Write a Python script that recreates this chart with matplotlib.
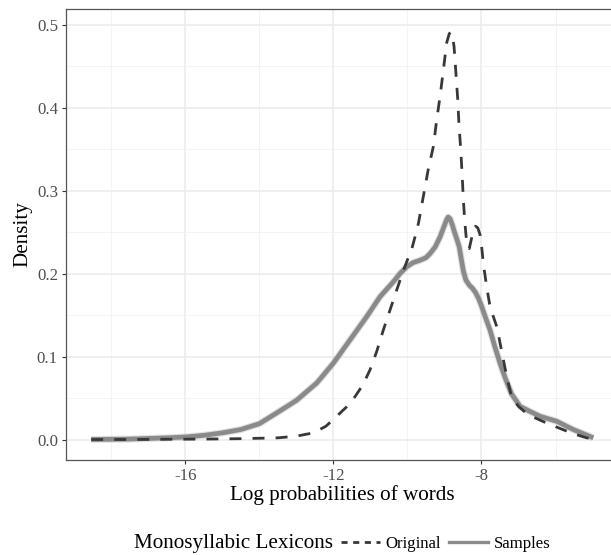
import matplotlib
matplotlib.use("Agg")
import matplotlib.pyplot as plt
from matplotlib.lines import Line2D
from matplotlib.ticker import MultipleLocator, FormatStrFormatter

plt.rcParams['font.family'] = ['Liberation Serif', 'DejaVu Serif']

# density curves
orig_x = [-18.54, -17.5, -16.5, -15.5, -14.5, -13.5, -13.0, -12.54, -12.2, -11.91,
          -11.65, -11.41, -11.2, -11.01, -10.83, -10.65, -10.47, -10.29, -10.13, -9.97,
          -9.88, -9.79, -9.70, -9.57, -9.44, -9.30, -9.21, -9.12, -9.03, -8.94,
          -8.87, -8.82, -8.78, -8.74, -8.69, -8.64, -8.61, -8.56, -8.52, -8.49,
          -8.45, -8.41, -8.37, -8.33, -8.28, -8.22, -8.16, -8.10, -8.04, -7.99,
          -7.95, -7.86, -7.78, -7.68, -7.58, -7.45, -7.30, -7.19, -7.0, -6.8,
          -6.6, -6.3, -6.03, -5.75, -5.45, -5.16, -4.98]
orig_y = [0.0, 0.0, 0.0003, 0.0005, 0.001, 0.002, 0.004, 0.008, 0.016, 0.028,
          0.039, 0.052, 0.066, 0.084, 0.106, 0.132, 0.156, 0.180, 0.201, 0.220,
          0.230, 0.245, 0.261, 0.293, 0.325, 0.353, 0.385, 0.413, 0.445, 0.478,
          0.489, 0.491, 0.486, 0.473, 0.441, 0.409, 0.381, 0.349, 0.317, 0.289,
          0.262, 0.242, 0.232, 0.230, 0.240, 0.252, 0.257, 0.255, 0.247, 0.230,
          0.212, 0.184, 0.163, 0.148, 0.135, 0.105, 0.072, 0.052, 0.040, 0.032,
          0.027, 0.021, 0.016, 0.011, 0.006, 0.002, 0.0005]

samp_x = [-18.54, -17.5, -16.5, -16.0, -15.5, -15.0, -14.5, -14.0, -13.53, -13.0,
          -12.45, -12.0, -11.55, -11.1, -10.74, -10.38, -10.2, -10.02, -9.85, -9.66,
          -9.5, -9.39, -9.25, -9.12, -9.0, -8.94, -8.90, -8.85, -8.79, -8.73,
          -8.67, -8.60, -8.54, -8.49, -8.42, -8.33, -8.24, -8.16, -8.08, -8.0,
          -7.9, -7.77, -7.64, -7.5, -7.35, -7.19, -6.96, -6.7, -6.42, -6.2,
          -5.97, -5.75, -5.52, -5.25, -4.98]
samp_y = [0.0, 0.0005, 0.002, 0.003, 0.005, 0.008, 0.012, 0.019, 0.032, 0.047,
          0.068, 0.092, 0.120, 0.148, 0.172, 0.190, 0.200, 0.208, 0.213, 0.216,
          0.219, 0.224, 0.232, 0.244, 0.258, 0.265, 0.268, 0.266, 0.259, 0.250,
          0.242, 0.232, 0.216, 0.203, 0.192, 0.186, 0.182, 0.177, 0.170, 0.161,
          0.148, 0.132, 0.112, 0.092, 0.073, 0.055, 0.040, 0.034, 0.028, 0.025,
          0.022, 0.017, 0.012, 0.007, 0.002]

fig = plt.figure(figsize=(6.11, 5.55), dpi=100)
ax = fig.add_axes([66 / 611, 1 - 460 / 555, 552.5 / 611, 451 / 555])

# samples band: faint halo + main line
ax.plot(samp_x, samp_y, color='#a8a8a8', lw=5.0, alpha=0.35, solid_capstyle='butt',
        solid_joinstyle='round', zorder=2)
ax.plot(samp_x, samp_y, color='#8a8a8a', lw=3.4, solid_capstyle='butt',
        solid_joinstyle='round', zorder=3)
ax.plot(orig_x, orig_y, color='#383838', lw=2.0, linestyle=(0, (4.3, 4.0)), zorder=4)

ax.set_xlim(-19.22, -4.30)
ax.set_ylim(-0.0247, 0.5187)
ax.xaxis.set_major_locator(MultipleLocator(4))
ax.xaxis.set_minor_locator(MultipleLocator(2))
ax.yaxis.set_major_locator(MultipleLocator(0.1))
ax.yaxis.set_minor_locator(MultipleLocator(0.05))
ax.yaxis.set_major_formatter(FormatStrFormatter('%.1f'))
ax.xaxis.set_major_formatter(FormatStrFormatter('%d'))

ax.grid(which='major', color='#ebebeb', lw=1.1, zorder=0)
ax.grid(which='minor', color='#f2f2f2', lw=0.6, zorder=0)
ax.set_axisbelow(True)
ax.tick_params(which='major', length=3, width=0.8, color='#333333',
               labelsize=12.1, labelcolor='#4d4d4d', pad=2.8)
ax.tick_params(which='minor', length=0)
for s in ax.spines.values():
    s.set_color('#555555')
    s.set_linewidth(0.9)
ax.spines['right'].set_visible(False)

ax.set_xlabel('Log probabilities of words', fontsize=15.2, labelpad=0.5)
ax.set_ylabel('Density', fontsize=15.2, labelpad=3)

# legend at the bottom, title to the left
fig.text(134 / 611, 1 - 548 / 555, 'Monosyllabic Lexicons', fontsize=15.2,
         ha='left', va='baseline')
handles = [Line2D([], [], color='#383838', lw=2.0, linestyle=(0, (2.2, 2.0))),
           Line2D([], [], color='#8a8a8a', lw=2.4)]
fig.legend(handles, ['Original', 'Samples'], loc='center left',
           bbox_to_anchor=(341 / 611, 1 - 543.5 / 555), ncol=2, frameon=False,
           fontsize=12.1, handlelength=2.3, handletextpad=0.36,
           columnspacing=0.46, borderpad=0, borderaxespad=0)

fig.savefig('out.png', dpi=100)
